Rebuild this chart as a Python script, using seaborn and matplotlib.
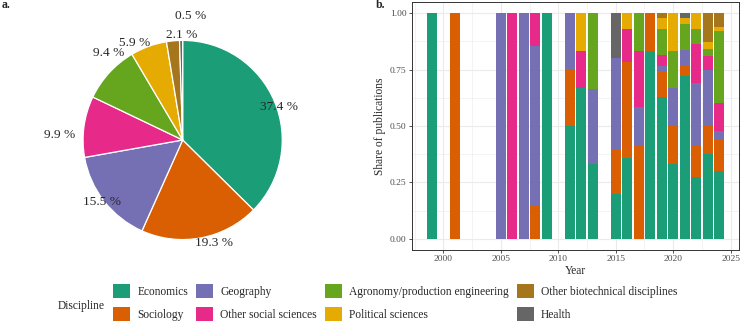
import numpy as np
import pandas as pd
import seaborn as sns
import matplotlib.pyplot as plt
from matplotlib.patches import Patch

# Disciplines and colours (Dark2)
disciplines = ['Economics', 'Sociology', 'Geography', 'Other social sciences',
               'Agronomy/production engineering', 'Political sciences',
               'Other biotechnical disciplines', 'Health']
colors = ['#1B9E77', '#D95F02', '#7570B3', '#E7298A',
          '#66A61E', '#E6AB02', '#A6761D', '#666666']

# Panel a: share of all publications (%)
pie_pct = [37.4, 19.3, 15.5, 9.9, 9.4, 5.9, 2.1, 0.5]

# Panel b: yearly shares per discipline
years = [1999, 2001, 2005, 2006, 2007, 2008, 2009, 2011, 2012, 2013,
         2015, 2016, 2017, 2018, 2019, 2020, 2021, 2022, 2023, 2024]
economics = [1, 0, 0, 0, 0, 0, 1, 0.5, 0.667, 0.333,
             0.2, 0.357, 0, 0.833, 0.628, 0.333, 0.722, 0.276, 0.375, 0.30]
sociology = [0, 1, 0, 0, 0, 0.143, 0, 0.25, 0, 0,
             0.2, 0.429, 0.417, 0.167, 0.116, 0.167, 0.046, 0.138, 0.125, 0.14]
geography = [0, 0, 1, 0, 1, 0.714, 0, 0.25, 0, 0.333,
             0.4, 0, 0.167, 0, 0.023, 0.167, 0.069, 0.276, 0.25, 0.04]
other_social = [0, 0, 0, 1, 0, 0.143, 0, 0, 0.167, 0,
                0, 0.143, 0.25, 0, 0.047, 0, 0, 0.172, 0.0625, 0.12]
agronomy = [0, 0, 0, 0, 0, 0, 0, 0, 0, 0.334,
            0, 0, 0.166, 0, 0.116, 0.167, 0.117, 0.069, 0.031, 0.32]
political = [0, 0, 0, 0, 0, 0, 0, 0, 0.166, 0,
             0, 0.071, 0, 0, 0.047, 0.166, 0.024, 0.069, 0.031, 0.02]
other_biotech = [0, 0, 0, 0, 0, 0, 0, 0, 0, 0,
                 0, 0, 0, 0, 0.023, 0, 0, 0, 0.1255, 0.06]
health = [0, 0, 0, 0, 0, 0, 0, 0, 0, 0,
          0.2, 0, 0, 0, 0, 0, 0.022, 0, 0, 0]
shares = [economics, sociology, geography, other_social,
          agronomy, political, other_biotech, health]

df = pd.DataFrame({
    'Year': np.tile(years, len(disciplines)),
    'Discipline': np.repeat(disciplines, len(years)),
    'Share': np.concatenate(shares),
})

sns.set_style('white')
plt.rcParams['font.family'] = ['Liberation Serif', 'DejaVu Serif']

fig = plt.figure(figsize=(7.41, 3.29), dpi=100)

# ---- a. pie
ax_pie = fig.add_axes([0.0785, 0.196, 0.336, 0.757])
ax_pie.pie(pie_pct, colors=colors, startangle=90, counterclock=False,
           wedgeprops=dict(edgecolor='white', linewidth=0.9))
ax_pie.set_xlim(-1.25, 1.25)
ax_pie.set_ylim(-1.25, 1.25)
ax_pie.axis('off')

# label layout: radius (x pie radius) and angle nudge (deg) from slice middle
lab_r = [1.02, 1.08, 1.02, 1.24, 1.15, 1.09, 1.05, 1.25]
lab_dang = [3.6, -6.1, 0.6, -5.4, 7.1, -6.4, 5.1, 4.8]
cum = 0
for p, r, d in zip(pie_pct, lab_r, lab_dang):
    mid = (cum + p / 2) / 100 * 360 + d
    cum += p
    th = np.deg2rad(mid)
    ax_pie.text(r * np.sin(th), r * np.cos(th), f'{p} %', ha='center',
                va='center', fontsize=9.6, clip_on=False)

# ---- b. stacked bars (seaborn stacks the first hue level on top)
ax = fig.add_axes([0.5556, 0.2401, 0.4421, 0.7538])
sns.histplot(data=df, x='Year', hue='Discipline', weights='Share',
             hue_order=disciplines[::-1], palette=colors[::-1],
             multiple='stack', discrete=True, shrink=0.9, alpha=1,
             linewidth=0, legend=False, ax=ax)
ax.set_xlim(1997.25, 2025.75)
ax.set_ylim(-0.05, 1.05)
ax.set_xticks([2000, 2005, 2010, 2015, 2020, 2025])
ax.set_xticks(np.arange(1997.5, 2025, 5), minor=True)
ax.set_yticks([0, 0.25, 0.5, 0.75, 1.0])
ax.set_yticklabels(['0.00', '0.25', '0.50', '0.75', '1.00'])
ax.set_yticks([0.125, 0.375, 0.625, 0.875], minor=True)
ax.grid(True, which='major', color='#EBEBEB', linewidth=0.8)
ax.grid(True, which='minor', color='#EBEBEB', linewidth=0.4)
ax.set_axisbelow(True)
for s in ax.spines.values():
    s.set_color('#333333')
    s.set_linewidth(0.7)
ax.tick_params(axis='both', which='major', length=2.1, width=0.6,
               color='#333333', labelsize=6.8, labelcolor='#4D4D4D', pad=1.5,
               bottom=True, left=True)
ax.tick_params(which='minor', length=0)
ax.set_xlabel('Year', fontsize=8.3, labelpad=1.5)
ax.set_ylabel('Share of publications', fontsize=8.3, labelpad=3)

fig.text(0.002, 1 - 5.5 / 329, 'a.', fontsize=8.5, fontweight='bold', va='center')
fig.text(376 / 741, 1 - 5.3 / 329, 'b.', fontsize=8.5, fontweight='bold', va='center')

# ---- legend
handles = [Patch(facecolor=c, edgecolor='none') for c in colors]
fig.legend(handles, disciplines, ncol=4, loc='upper left',
           bbox_to_anchor=(112.7 / 741, 1 - 284 / 329), frameon=False,
           fontsize=8.3, handlelength=1.5, handleheight=1.5,
           handletextpad=0.63, columnspacing=0.67, labelspacing=0.78,
           borderpad=0, borderaxespad=0)
fig.text(57.3 / 741, 1 - 306 / 329, 'Discipline', fontsize=8.3, va='center')

fig.savefig('out.png', dpi=100)
